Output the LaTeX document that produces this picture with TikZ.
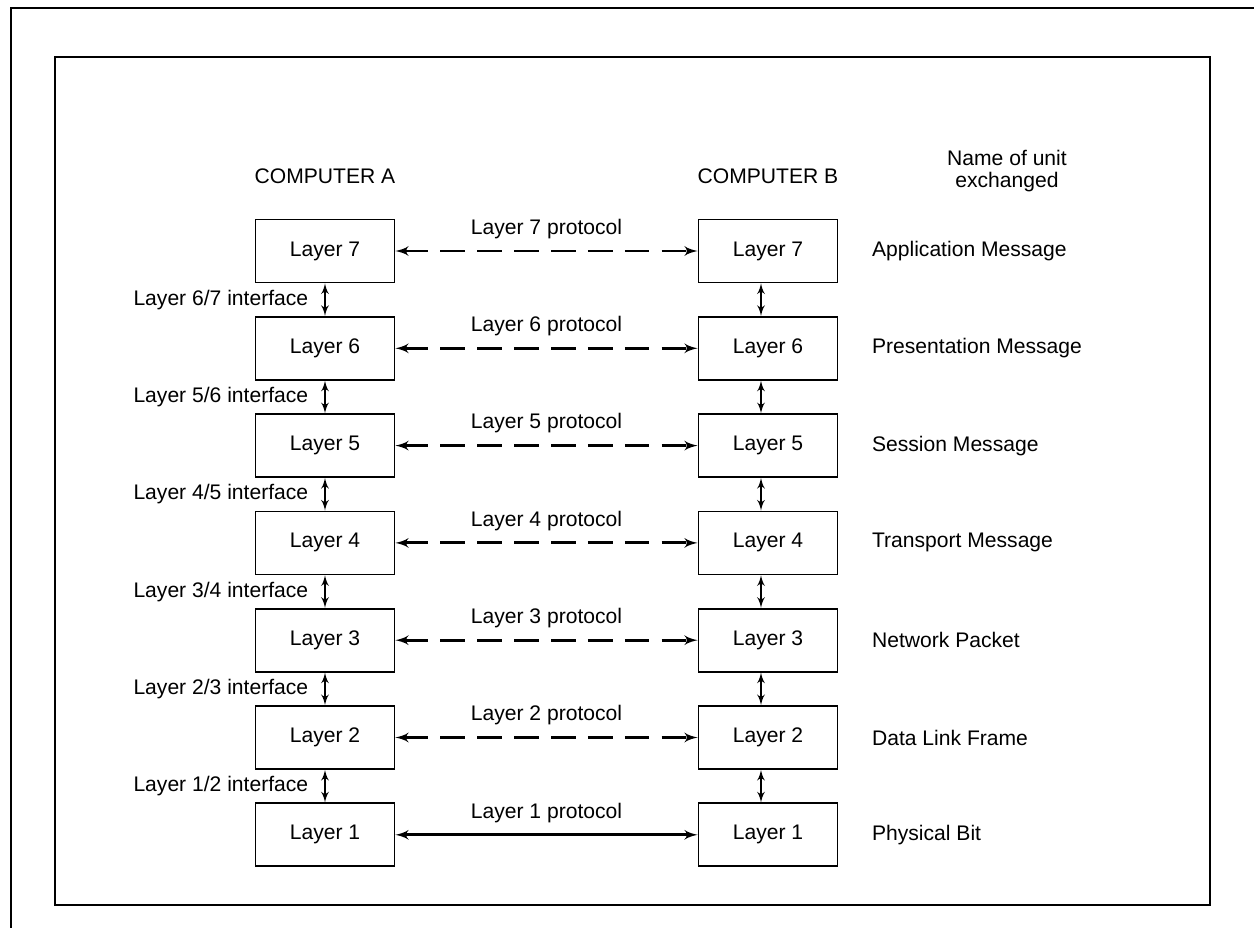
\documentclass[tikz,border=0pt]{standalone}
\usepackage{fontspec}
\setmainfont{Liberation Sans}
\usetikzlibrary{shapes,arrows,positioning}

\begin{document}
\begin{tikzpicture}[auto, node distance=1.946cm, >=latex', font=\fontsize{12}{12.5}\selectfont]
	% Define block styles
	\tikzstyle{block} = [rectangle, draw, line width=1pt, minimum width=2.78cm, minimum height=1.26cm, text centered]
	\tikzstyle{line} = [draw, <->, line width=1.1pt]
	\tikzstyle{protocol} = [draw, <->, line width=1.6pt, dash pattern=on 14pt off 7pt]
	\tikzstyle{physical} = [draw, <->, line width=1.6pt]
	\tikzstyle{unitname} = [right=0.55cm of #1]
	
	\useasboundingbox (-6.5,-13.54) rectangle (18.58,5.02);
	
	% Frames
	\draw [line width=1.6pt] (-6.28,-13.54) -- (-6.28,4.86) -- (18.58,4.86);
	\draw [line width=1.1pt] (-5.4,3.88) rectangle (17.7,-13.08);
	
	% Nodes, computer A
	\node [block] (layer7 a) {Layer 7};
	\node [block, below of=layer7 a] (layer6 a) {Layer 6};
	\node [block, below of=layer6 a] (layer5 a) {Layer 5};
	\node [block, below of=layer5 a] (layer4 a) {Layer 4};
	\node [block, below of=layer4 a] (layer3 a) {Layer 3};
	\node [block, below of=layer3 a] (layer2 a) {Layer 2};
	\node [block, below of=layer2 a] (layer1 a) {Layer 1};
	
	% Nodes, computer B
	\node [block, right of=layer7 a, node distance=8.86cm] (layer7 b) {Layer 7};
	\node [block, below of=layer7 b] (layer6 b) {Layer 6};
	\node [block, below of=layer6 b] (layer5 b) {Layer 5};
	\node [block, below of=layer5 b] (layer4 b) {Layer 4};
	\node [block, below of=layer4 b] (layer3 b) {Layer 3};
	\node [block, below of=layer3 b] (layer2 b) {Layer 2};
	\node [block, below of=layer2 b] (layer1 b) {Layer 1};
	
	% Headings
	\node [above of=layer7 a, node distance=1.5cm] (computer a) {COMPUTER A};
	\node [above of=layer7 b, node distance=1.5cm] (computer b) {COMPUTER B};
	\node [align=center] (unit header) at (13.64,1.6) {Name of unit\\exchanged};
	
	% Unit names
	\node [unitname=layer7 b] (unit7) {Application Message};
	\node [unitname=layer6 b] (unit6) {Presentation Message};
	\node [unitname=layer5 b] (unit5) {Session Message};
	\node [unitname=layer4 b] (unit4) {Transport Message};
	\node [unitname=layer3 b] (unit3) {Network Packet};
	\node [unitname=layer2 b] (unit2) {Data Link Frame};
	\node [unitname=layer1 b] (unit1) {Physical Bit};
	
	% Interfaces
	\path [line] (layer7 a) -- node [midway, left=0.2cm] {Layer 6/7 interface} (layer6 a);
	\path [line] (layer6 a) -- node [midway, left=0.2cm] {Layer 5/6 interface} (layer5 a);
	\path [line] (layer5 a) -- node [midway, left=0.2cm] {Layer 4/5 interface} (layer4 a);
	\path [line] (layer4 a) -- node [midway, left=0.2cm] {Layer 3/4 interface} (layer3 a);
	\path [line] (layer3 a) -- node [midway, left=0.2cm] {Layer 2/3 interface} (layer2 a);
	\path [line] (layer2 a) -- node [midway, left=0.2cm] {Layer 1/2 interface} (layer1 a);
	\path [line] ([xshift=-0.14cm]layer7 b.south) -- ([xshift=-0.14cm]layer6 b.north);
	\path [line] ([xshift=-0.14cm]layer6 b.south) -- ([xshift=-0.14cm]layer5 b.north);
	\path [line] ([xshift=-0.14cm]layer5 b.south) -- ([xshift=-0.14cm]layer4 b.north);
	\path [line] ([xshift=-0.14cm]layer4 b.south) -- ([xshift=-0.14cm]layer3 b.north);
	\path [line] ([xshift=-0.14cm]layer3 b.south) -- ([xshift=-0.14cm]layer2 b.north);
	\path [line] ([xshift=-0.14cm]layer2 b.south) -- ([xshift=-0.14cm]layer1 b.north);
	
	% Protocols
	\path [protocol] (layer7 a) -- node [midway, above=0.1cm] {Layer 7 protocol} (layer7 b);
	\path [protocol] (layer6 a) -- node [midway, above=0.1cm] {Layer 6 protocol} (layer6 b);
	\path [protocol] (layer5 a) -- node [midway, above=0.1cm] {Layer 5 protocol} (layer5 b);
	\path [protocol] (layer4 a) -- node [midway, above=0.1cm] {Layer 4 protocol} (layer4 b);
	\path [protocol] (layer3 a) -- node [midway, above=0.1cm] {Layer 3 protocol} (layer3 b);
	\path [protocol] (layer2 a) -- node [midway, above=0.1cm] {Layer 2 protocol} (layer2 b);
	\path [physical] (layer1 a) -- node [midway, above=0.1cm] {Layer 1 protocol} (layer1 b);
\end{tikzpicture}
\end{document}
